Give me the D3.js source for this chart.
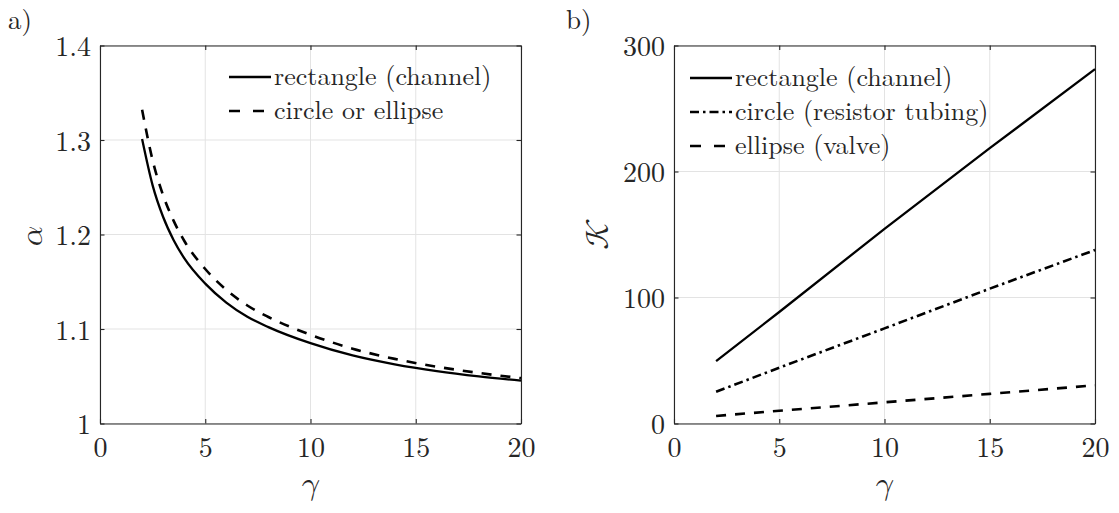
<!DOCTYPE html>
<html>
<head>
<meta charset="utf-8">
<script src="https://cdn.jsdelivr.net/npm/d3@7/dist/d3.min.js"></script>
<style>
  html, body { margin: 0; padding: 0; background: #fff; }
  svg text { fill: #262626; }
</style>
</head>
<body>
<svg id="fig" width="1119" height="513"></svg>
<script>
// Panel a) : alpha versus aspect ratio gamma
const gammaA = [2, 2.5, 3, 3.5, 4, 5, 6, 7, 8, 10, 12, 14, 16, 18, 20];
const alphaRectangle = [1.301, 1.252, 1.2185, 1.194, 1.175, 1.148, 1.128, 1.113, 1.102, 1.085, 1.072, 1.0626, 1.0554, 1.0498, 1.0453];
const alphaCircleEllipse = [1.332, 1.2785, 1.2414, 1.2144, 1.1934, 1.1635, 1.1414, 1.1249, 1.1127, 1.0939, 1.0792, 1.0684, 1.0601, 1.0535, 1.048];
const xTicksA = [0, 5, 10, 15, 20];
const yTicksA = [1, 1.1, 1.2, 1.3, 1.4];

// Panel b) : K versus aspect ratio gamma
const gammaB = [2, 5, 10, 15, 20];
const kRectangle = [49.5, 88.5, 154.5, 218.5, 281.3];
const kCircle = [25.2, 44.3, 75.5, 107.0, 137.7];
const kEllipse = [6.0, 10.1, 16.8, 23.5, 30.3];
const xTicksB = [0, 5, 10, 15, 20];
const yTicksB = [0, 100, 200, 300];

const legendA = ["rectangle (channel)", "circle or ellipse"];
const legendB = ["rectangle (channel)", "circle (resistor tubing)", "ellipse (valve)"];

const FONT = "'Latin Modern Roman', 'CMU Serif', 'Liberation Serif', 'DejaVu Serif', 'Noto Serif', serif";
const MATH = "'Latin Modern Math', 'STIX Two Math', 'CMU Serif', 'Latin Modern Roman', serif";
const AXIS = "#262626", GRID = "#e3e3e3";
const svg = d3.select("#fig");

function panel(opts) {
  const { left, right, top, bottom, xDomain, yDomain, xTicks, yTicks, yFmt } = opts;
  const x = d3.scaleLinear().domain(xDomain).range([left, right]);
  const y = d3.scaleLinear().domain(yDomain).range([bottom, top]);
  const g = svg.append("g");

  // grid
  g.append("g").selectAll("line").data(xTicks).join("line")
    .attr("x1", d => x(d)).attr("x2", d => x(d)).attr("y1", top).attr("y2", bottom)
    .attr("stroke", GRID).attr("stroke-width", 1);
  g.append("g").selectAll("line").data(yTicks).join("line")
    .attr("y1", d => y(d)).attr("y2", d => y(d)).attr("x1", left).attr("x2", right)
    .attr("stroke", GRID).attr("stroke-width", 1);

  const tick = 4.5;
  const styleAxis = sel => {
    sel.attr("font-family", null).attr("font-size", null);
    sel.select(".domain").attr("stroke", AXIS).attr("stroke-width", 1.1);
    sel.selectAll(".tick line").attr("stroke", AXIS).attr("stroke-width", 1.1);
    sel.selectAll(".tick text").attr("fill", AXIS)
      .style("font-family", FONT).style("font-size", "28px");
  };
  const ax = g.append("g").attr("transform", `translate(0,${bottom})`)
    .call(d3.axisBottom(x).tickValues(xTicks).tickSizeInner(-tick).tickSizeOuter(0).tickPadding(14).tickFormat(d3.format("d")));
  styleAxis(ax);
  const ay = g.append("g").attr("transform", `translate(${left},0)`)
    .call(d3.axisLeft(y).tickValues(yTicks).tickSizeInner(-tick).tickSizeOuter(0).tickPadding(9).tickFormat(yFmt));
  styleAxis(ay);
  ay.selectAll(".tick text").attr("dy", "0.36em");
  const at = g.append("g").attr("transform", `translate(0,${top})`)
    .call(d3.axisTop(x).tickValues(xTicks).tickSizeInner(-tick).tickSizeOuter(0).tickFormat(""));
  styleAxis(at);
  const ar = g.append("g").attr("transform", `translate(${right},0)`)
    .call(d3.axisRight(y).tickValues(yTicks).tickSizeInner(-tick).tickSizeOuter(0).tickFormat(""));
  styleAxis(ar);

  return { g, x, y };
}

function drawSeries(p, xs, ys, dash, width, curve) {
  const line = d3.line().x((d, i) => p.x(xs[i])).y(d => p.y(d)).curve(curve || d3.curveLinear);
  p.g.append("path").datum(ys).attr("d", line)
    .attr("fill", "none").attr("stroke", "#000").attr("stroke-width", width)
    .attr("stroke-dasharray", dash);
}

function legend(p, x0, rows, items) {
  items.forEach((it, i) => {
    p.g.append("line").attr("x1", x0).attr("x2", x0 + 42).attr("y1", rows[i]).attr("y2", rows[i])
      .attr("stroke", "#000").attr("stroke-width", it.w).attr("stroke-dasharray", it.dash);
    p.g.append("text").attr("x", x0 + 45).attr("y", rows[i]).attr("dy", "0.32em")
      .style("font-family", FONT).style("font-size", "26px").attr("fill", "#000").text(it.label);
  });
}

// ---- panel a ----
const pa = panel({ left: 100, right: 521, top: 45.5, bottom: 423.5,
  xDomain: [0, 20], yDomain: [1, 1.4], xTicks: xTicksA, yTicks: yTicksA,
  yFmt: d => d === 1 ? "1" : d3.format(".1f")(d) });
drawSeries(pa, gammaA, alphaRectangle, null, 2.3, d3.curveMonotoneX);
drawSeries(pa, gammaA, alphaCircleEllipse, "10,9", 2.6, d3.curveMonotoneX);
legend(pa, 229, [77, 111], [
  { label: legendA[0], dash: null, w: 2.3 },
  { label: legendA[1], dash: "11,13", w: 2.6 }
]);

// ---- panel b ----
const pb = panel({ left: 674, right: 1095, top: 45.5, bottom: 423.5,
  xDomain: [0, 20], yDomain: [0, 300], xTicks: xTicksB, yTicks: yTicksB,
  yFmt: d3.format("d") });
drawSeries(pb, gammaB, kRectangle, null, 2.3);
drawSeries(pb, gammaB, kCircle, "9,4,2.5,4", 2.6);
drawSeries(pb, gammaB, kEllipse, "10,9", 2.6);
legend(pb, 690, [78, 112, 146], [
  { label: legendB[0], dash: null, w: 2.3 },
  { label: legendB[1], dash: "9,4,2.5,4", w: 2.6 },
  { label: legendB[2], dash: "11,13", w: 2.6 }
]);

// axis titles and panel tags
const title = (sel, size, fam) => sel.style("font-family", fam).style("font-size", size + "px")
  .attr("fill", "#262626");
title(svg.append("text").attr("x", 310).attr("y", 494).attr("text-anchor", "middle").text("𝛾"), 32, MATH);
title(svg.append("text").attr("x", 884).attr("y", 494).attr("text-anchor", "middle").text("𝛾"), 32, MATH);
title(svg.append("text").attr("transform", "translate(42,236) rotate(-90)").attr("text-anchor", "middle").text("𝛼"), 32, MATH);
title(svg.append("text").attr("transform", "translate(608,234) rotate(-90)").attr("text-anchor", "middle").text("𝒦"), 32, MATH);
title(svg.append("text").attr("x", 8).attr("y", 29).text("a)"), 27, FONT);
title(svg.append("text").attr("x", 566).attr("y", 29).text("b)"), 27, FONT);
</script>
</body>
</html>
